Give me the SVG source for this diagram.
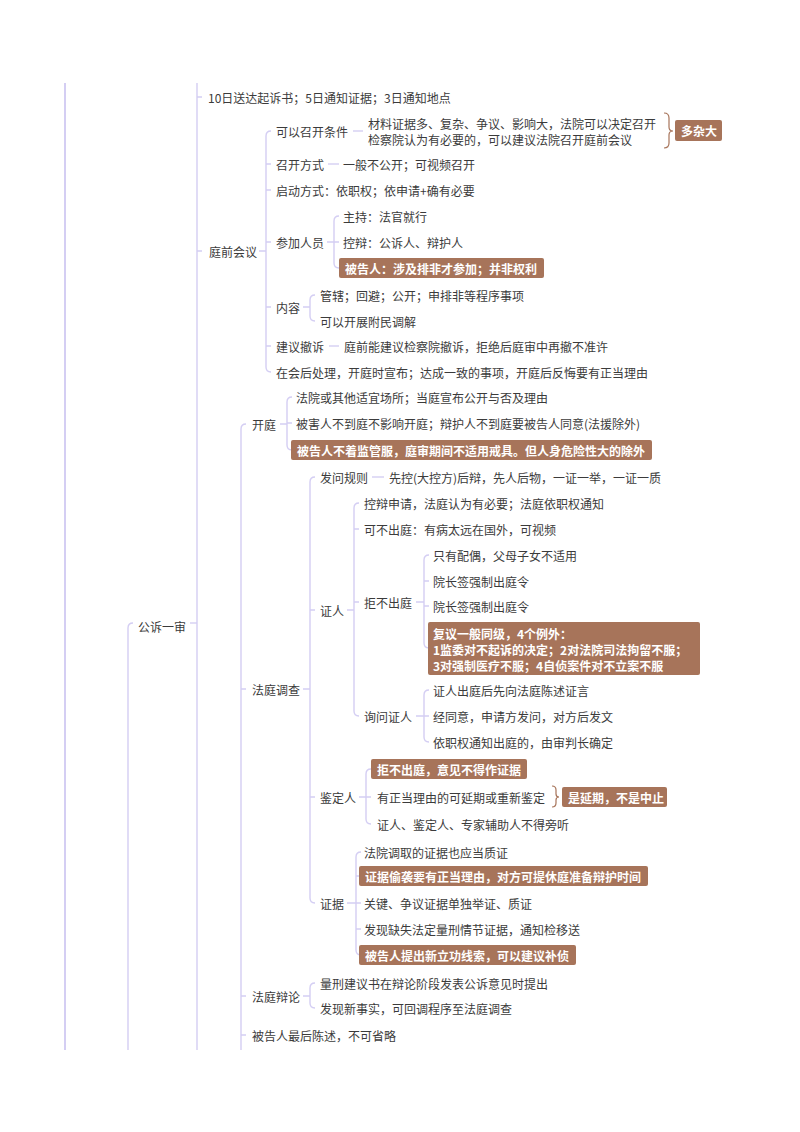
<svg xmlns="http://www.w3.org/2000/svg" width="800" height="1132" viewBox="0 0 800 1132">
<style>
.t{font-family:"Noto Sans CJK SC","Noto Sans",sans-serif;font-size:12px;fill:#3b3b3b;dominant-baseline:central}
.w{font-family:"Noto Sans CJK SC","Noto Sans",sans-serif;font-size:12px;font-weight:bold;fill:#ffffff;dominant-baseline:central}
.box{fill:#a7745a}
.ln{stroke:#d4cef3;stroke-width:1.4;fill:none}
.sp{stroke:#d4cef3;stroke-width:2;fill:none}
.br{stroke:#a7745a;stroke-width:1.2;fill:none}
</style>
<rect width="800" height="1132" fill="#ffffff"/>
<g id="connectors">
<path class="sp" d="M65 83 V1050"/>
<path class="ln" d="M133 623 Q128 623 128 628 V1050"/>
<path class="ln" d="M190 623 H197"/>
<path class="ln" d="M197 83 V1050 M197 97 H202 M197 251 H202"/>
<path class="ln" d="M259 251 H266 M271 131 Q266 131 266 136 V367 Q266 372 271 372 M266 164 H271 M266 190 H271 M266 242 H271 M266 307 H271 M266 346 H271"/>
<path class="ln" d="M353 131 H363"/>
<path class="ln" d="M328 164 H339"/>
<path class="ln" d="M327 242 H334 M339 216 Q334 216 334 221 V263 Q334 268 339 268 M334 242 H339"/>
<path class="ln" d="M303 307 H310 M315 295 Q310 295 310 300 V316 Q310 321 315 321"/>
<path class="ln" d="M329 346 H339"/>
<path class="ln" d="M246 424 Q241 424 241 429 V1050 M241 689 H246 M241 996 H246 M241 1035 H246"/>
<path class="ln" d="M280 424 H287 M292 397 Q287 397 287 402 V445 Q287 450 292 450 M287 423 H292"/>
<path class="ln" d="M303 689 H310 M315 477 Q310 477 310 482 V898 Q310 903 315 903 M310 610 H315 M310 797 H315"/>
<path class="ln" d="M372 477 H384"/>
<path class="ln" d="M347 610 H354 M359 503 Q354 503 354 508 V711 Q354 716 359 716 M354 529 H359 M354 602 H359"/>
<path class="ln" d="M416 602 H424 M429 555 Q424 555 424 560 V643 Q424 648 429 648 M424 581 H429 M424 606 H429"/>
<path class="ln" d="M416 716 H424 M429 690 Q424 690 424 695 V737 Q424 742 429 742 M424 716 H429"/>
<path class="ln" d="M359 797 H366 M371 769 Q366 769 366 774 V819 Q366 824 371 824 M366 797 H371"/>
<path class="ln" d="M347 903 H356 M361 852 Q356 852 356 857 V950 Q356 955 361 955 M356 876 H361 M356 903 H361 M356 929 H361"/>
<path class="ln" d="M303 996 H310 M315 983 Q310 983 310 988 V1003 Q310 1008 315 1008"/>
<path class="br" d="M664 113 Q669 113 669 118 V127 Q669 131 673 131 Q669 131 669 135 V143 Q669 148 664 148"/>
<path class="br" d="M552 786 Q556 786 556 790 V794 Q556 797 559 797 Q556 797 556 800 V803 Q556 807 552 807"/>
</g>
<g id="n-gongsu"><text class="t" x="138" y="626">公诉一审</text></g>
<g id="n-10ri"><text class="t" x="208" y="97">10日送达起诉书；5日通知证据；3日通知地点</text></g>
<g id="n-tingqian"><text class="t" x="209" y="251">庭前会议</text></g>
<g id="n-kyzktj"><text class="t" x="276" y="131">可以召开条件</text></g>
<g id="n-kyzktj-c"><text class="t" x="368" y="123">材料证据多、复杂、争议、影响大，法院可以决定召开</text><text class="t" x="368" y="139">检察院认为有必要的，可以建议法院召开庭前会议</text></g>
<g id="n-duozada"><rect class="box" x="675" y="120" width="47" height="21" rx="2"/><text class="w" x="681" y="130.5">多杂大</text></g>
<g id="n-zkfs"><text class="t" x="276" y="164">召开方式</text></g>
<g id="n-zkfs-c"><text class="t" x="343" y="164">一般不公开；可视频召开</text></g>
<g id="n-qdfs"><text class="t" x="276" y="190">启动方式：依职权；依申请+确有必要</text></g>
<g id="n-cjry"><text class="t" x="276" y="242">参加人员</text></g>
<g id="n-zhuchi"><text class="t" x="343" y="216">主持：法官就行</text></g>
<g id="n-kongbian"><text class="t" x="343" y="242">控辩：公诉人、辩护人</text></g>
<g id="n-beigaoren1"><rect class="box" x="339" y="258" width="205" height="20" rx="2"/><text class="w" x="345" y="268">被告人：涉及排非才参加；并非权利</text></g>
<g id="n-neirong"><text class="t" x="276" y="307">内容</text></g>
<g id="n-guanxia"><text class="t" x="320" y="295">管辖；回避；公开；申排非等程序事项</text></g>
<g id="n-fumin"><text class="t" x="320" y="321">可以开展附民调解</text></g>
<g id="n-jycs"><text class="t" x="276" y="346">建议撤诉</text></g>
<g id="n-jycs-c"><text class="t" x="344" y="346">庭前能建议检察院撤诉，拒绝后庭审中再撤不准许</text></g>
<g id="n-huihou"><text class="t" x="276" y="372">在会后处理，开庭时宣布；达成一致的事项，开庭后反悔要有正当理由</text></g>
<g id="n-kaiting"><text class="t" x="252" y="424">开庭</text></g>
<g id="n-kt1"><text class="t" x="296" y="397">法院或其他适宜场所；当庭宣布公开与否及理由</text></g>
<g id="n-kt2"><text class="t" x="296" y="423">被害人不到庭不影响开庭；辩护人不到庭要被告人同意(法援除外)</text></g>
<g id="n-kt3"><rect class="box" x="291" y="440" width="361" height="20" rx="2"/><text class="w" x="297" y="450">被告人不着监管服，庭审期间不适用戒具。但人身危险性大的除外</text></g>
<g id="n-tcdc"><text class="t" x="252" y="689">法庭调查</text></g>
<g id="n-fwgz"><text class="t" x="320" y="477">发问规则</text></g>
<g id="n-fwgz-c"><text class="t" x="389" y="477">先控(大控方)后辩，先人后物，一证一举，一证一质</text></g>
<g id="n-zhengren"><text class="t" x="320" y="610">证人</text></g>
<g id="n-zr1"><text class="t" x="364" y="503">控辩申请，法庭认为有必要；法庭依职权通知</text></g>
<g id="n-zr2"><text class="t" x="364" y="529">可不出庭：有病太远在国外，可视频</text></g>
<g id="n-jbct"><text class="t" x="364" y="602">拒不出庭</text></g>
<g id="n-jb1"><text class="t" x="433" y="555">只有配偶，父母子女不适用</text></g>
<g id="n-jb2"><text class="t" x="433" y="581">院长签强制出庭令</text></g>
<g id="n-jb3"><text class="t" x="433" y="606">院长签强制出庭令</text></g>
<g id="n-jb4"><rect class="box" x="428" y="622" width="272" height="53" rx="2"/><text class="w" x="433" y="633">复议一般同级，4个例外：</text><text class="w" x="433" y="649">1监委对不起诉的决定；2对法院司法拘留不服；</text><text class="w" x="433" y="665">3对强制医疗不服；4自侦案件对不立案不服</text></g>
<g id="n-xwzr"><text class="t" x="364" y="716">询问证人</text></g>
<g id="n-xw1"><text class="t" x="433" y="690">证人出庭后先向法庭陈述证言</text></g>
<g id="n-xw2"><text class="t" x="433" y="716">经同意，申请方发问，对方后发文</text></g>
<g id="n-xw3"><text class="t" x="433" y="742">依职权通知出庭的，由审判长确定</text></g>
<g id="n-jdr"><text class="t" x="320" y="797">鉴定人</text></g>
<g id="n-jd1"><rect class="box" x="371" y="759" width="156" height="20" rx="2"/><text class="w" x="377" y="769">拒不出庭，意见不得作证据</text></g>
<g id="n-jd2"><text class="t" x="377" y="797">有正当理由的可延期或重新鉴定</text></g>
<g id="n-yanqi"><rect class="box" x="562" y="787" width="105" height="20" rx="2"/><text class="w" x="568" y="797">是延期，不是中止</text></g>
<g id="n-jd3"><text class="t" x="377" y="824">证人、鉴定人、专家辅助人不得旁听</text></g>
<g id="n-zhengju"><text class="t" x="320" y="903">证据</text></g>
<g id="n-zj1"><text class="t" x="364" y="852">法院调取的证据也应当质证</text></g>
<g id="n-zj2"><rect class="box" x="359" y="866" width="289" height="20" rx="2"/><text class="w" x="365" y="876">证据偷袭要有正当理由，对方可提休庭准备辩护时间</text></g>
<g id="n-zj3"><text class="t" x="364" y="903">关键、争议证据单独举证、质证</text></g>
<g id="n-zj4"><text class="t" x="364" y="929">发现缺失法定量刑情节证据，通知检移送</text></g>
<g id="n-zj5"><rect class="box" x="359" y="945" width="217" height="20" rx="2"/><text class="w" x="365" y="955">被告人提出新立功线索，可以建议补侦</text></g>
<g id="n-tcbl"><text class="t" x="252" y="996">法庭辩论</text></g>
<g id="n-bl1"><text class="t" x="320" y="983">量刑建议书在辩论阶段发表公诉意见时提出</text></g>
<g id="n-bl2"><text class="t" x="320" y="1008">发现新事实，可回调程序至法庭调查</text></g>
<g id="n-zhsc"><text class="t" x="252" y="1035">被告人最后陈述，不可省略</text></g>
</svg>
